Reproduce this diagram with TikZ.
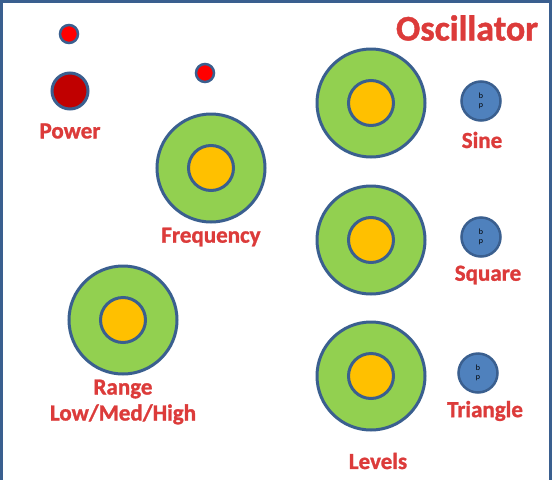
\documentclass[tikz,border=0pt]{standalone}
\usepackage{fontspec}
\setmainfont{Carlito}[BoldFeatures={FakeBold=1.2}]
\definecolor{frame}{HTML}{3A5F8F}
\definecolor{knobgreen}{HTML}{92D050}
\definecolor{knoborange}{HTML}{FFC000}
\definecolor{btnblue}{HTML}{4F81BD}
\definecolor{darkred}{HTML}{C00000}
\definecolor{lblred}{HTML}{DC3B3A}
\begin{document}
\begin{tikzpicture}[x=1pt,y=-1pt,
  knobouter/.style={circle,draw=frame,line width=3pt,fill=knobgreen,minimum size=108pt,inner sep=0pt},
  knobinner/.style={circle,draw=frame,line width=3pt,fill=knoborange,minimum size=45pt,inner sep=0pt},
  led/.style={circle,draw=frame,line width=2.5pt,fill=red,minimum size=18pt,inner sep=0pt},
  powerbtn/.style={circle,draw=frame,line width=3pt,fill=darkred,minimum size=36pt,inner sep=0pt},
  wavebtn/.style={circle,draw=frame,line width=2.5pt,fill=btnblue,minimum size=39pt,inner sep=0pt,
    font=\fontsize{8}{9}\selectfont,align=center,text=black},
  lbl/.style={text=lblred,font=\fontsize{23}{28}\selectfont\bfseries,align=center,inner sep=0pt},
  title/.style={text=lblred,font=\fontsize{36}{40}\selectfont\bfseries,inner sep=0pt}]
\useasboundingbox (0,0) rectangle (552,480);
\fill[white] (0,0) rectangle (552,480);
% frame
\fill[frame] (0,0) rectangle (3,480);
\fill[frame] (0,0) rectangle (552,3);
\fill[frame] (549,0) rectangle (552,480);
% title
\node[title] (ttl) at (467,28) {Oscillator};
% power section
\node[led] (led1) at (69,34) {};
\node[powerbtn] (pwr) at (70,91) {};
\node[lbl] (pwrl) at (70,131) {Power};
\node[led] (led2) at (205,73) {};
% frequency
\node[knobouter] (freqo) at (211,168) {};
\node[knobinner] (freqi) at (211,168) {};
\node[lbl] (freql) at (211,237) {Frequency};
% range
\node[knobouter] (rngo) at (123,320) {};
\node[knobinner] (rngi) at (123,320) {};
\node[lbl] (rngl) at (123,402) {Range\\[-2pt]Low/Med/High};
% levels
\node[knobouter] (lv1o) at (371,103) {};
\node[knobinner] (lv1i) at (371,103) {};
\node[knobouter] (lv2o) at (371,240) {};
\node[knobinner] (lv2i) at (371,240) {};
\node[knobouter] (lv3o) at (371,376) {};
\node[knobinner] (lv3i) at (371,376) {};
\node[lbl] (lvl) at (378,461) {Levels};
% wave buttons
\node[wavebtn] (sine) at (481,101) {b\\p};
\node[lbl] (sinel) at (482,140) {Sine};
\node[wavebtn] (sq) at (481,237) {b\\p};
\node[lbl] (sql) at (488,275) {Square};
\node[wavebtn] (tri) at (478,373) {b\\p};
\node[lbl] (tril) at (485,411) {Triangle};
\end{tikzpicture}
\end{document}
